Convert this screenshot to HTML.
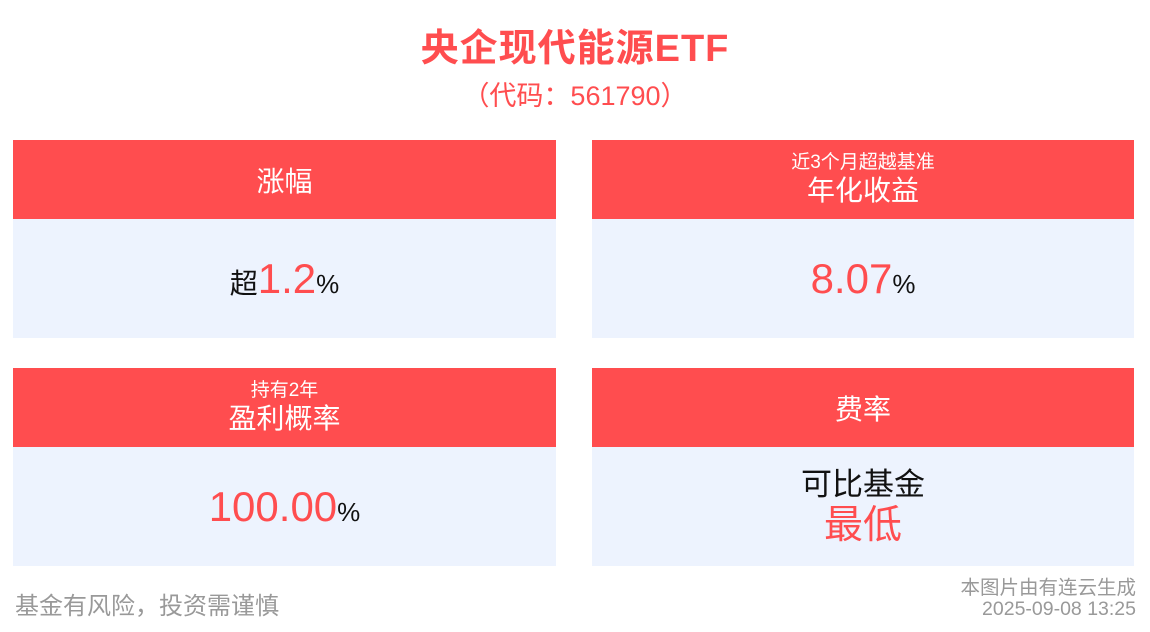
<!DOCTYPE html>
<html><head><meta charset="utf-8"><style>
*{margin:0;padding:0;box-sizing:border-box}
body{width:1150px;height:632px;background:#fff;position:relative;overflow:hidden;font-family:"Liberation Sans","Noto Sans CJK SC",sans-serif}
.a{position:absolute}
.t{left:0;width:1150px;text-align:center;color:#ff4d4f}
.h{background:#ff4d4f;color:#fff;display:flex;flex-direction:column;align-items:center;justify-content:center;text-align:center}
.b{background:#edf3fe;display:flex;flex-direction:column;align-items:center;justify-content:center;color:#111}
.big{color:#ff4d4f;font-size:42px}
.pc{font-size:26px}
</style></head><body>
<div class="a t" style="top:25px;font-size:38px;font-weight:bold;line-height:48px;letter-spacing:1px">央企现代能源ETF</div>
<div class="a t" style="top:79px;font-size:27px;line-height:34px">（代码：561790）</div>

<div class="a h" style="left:13px;top:140px;width:543px;height:79px;font-size:28px">涨幅</div>
<div class="a b" style="left:13px;top:219px;width:543px;height:119px"><div><span style="font-size:28px">超</span><span class="big">1.2</span><span class="pc">%</span></div></div>

<div class="a h" style="left:592px;top:140px;width:542px;height:79px"><div style="font-size:19px;line-height:22px">近3个月超越基准</div><div style="font-size:28px;line-height:34px">年化收益</div></div>
<div class="a b" style="left:592px;top:219px;width:542px;height:119px"><div><span class="big">8.07</span><span class="pc">%</span></div></div>

<div class="a h" style="left:13px;top:368px;width:543px;height:79px"><div style="font-size:19px;line-height:22px">持有2年</div><div style="font-size:28px;line-height:34px">盈利概率</div></div>
<div class="a b" style="left:13px;top:447px;width:543px;height:119px"><div><span class="big">100.00</span><span class="pc">%</span></div></div>

<div class="a h" style="left:592px;top:368px;width:542px;height:79px;font-size:28px">费率</div>
<div class="a b" style="left:592px;top:447px;width:542px;height:119px"><div style="font-size:31px;line-height:38px">可比基金</div><div style="font-size:39px;line-height:44px;color:#ff4d4f">最低</div></div>

<div class="a" style="left:15px;top:586px;font-size:24px;color:#999">基金有风险，投资需谨慎</div>
<div class="a" style="right:14px;top:578px;font-size:19.5px;line-height:21px;color:#999;text-align:right">本图片由有连云生成<br>2025-09-08 13:25</div>
</body></html>
